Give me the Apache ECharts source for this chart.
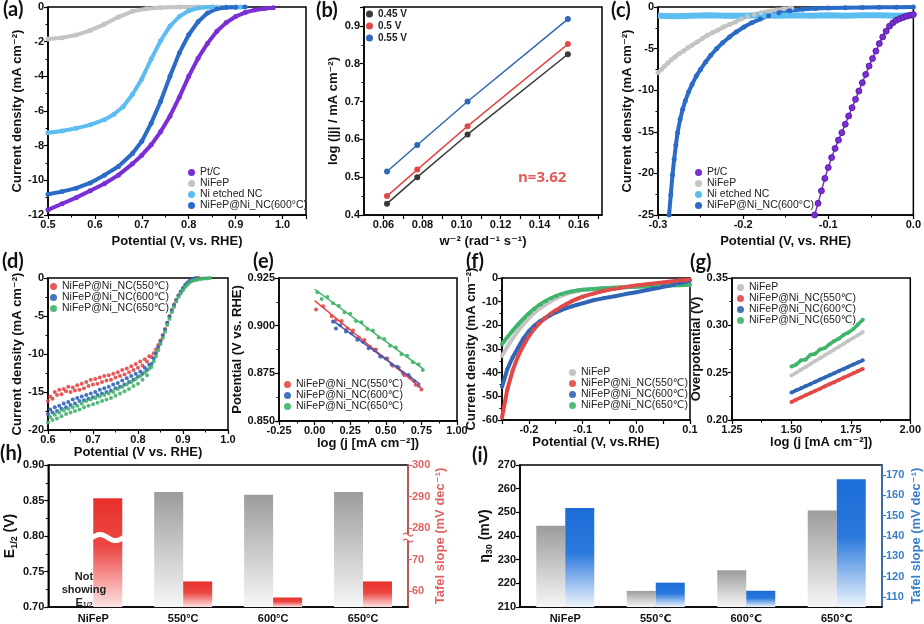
<!DOCTYPE html>
<html><head><meta charset="utf-8">
<script src="https://cdn.jsdelivr.net/npm/echarts@6/dist/echarts.min.js"></script>
<style>html,body{margin:0;padding:0;background:#fff}#c{width:924px;height:624px}</style>
</head><body><div id="c"></div>
<script>
// ---------------- DATA ----------------
// (a) ORR LSV
const aPtX = [0.50,0.53,0.56,0.59,0.62,0.65,0.68,0.70,0.72,0.74,0.76,0.78,0.80,0.82,0.84,0.86,0.88,0.90,0.92,0.94,0.96,0.98];
const aPtY = [-11.70,-11.35,-11.00,-10.60,-10.20,-9.70,-9.05,-8.55,-7.95,-7.20,-6.30,-5.20,-4.00,-2.95,-2.10,-1.40,-0.90,-0.55,-0.32,-0.18,-0.10,-0.05];
const aNiFePX = [0.50,0.53,0.56,0.59,0.62,0.65,0.68,0.71,0.74,0.78,0.82,0.86,0.90];
const aNiFePY = [-1.85,-1.77,-1.62,-1.35,-1.00,-0.58,-0.25,-0.10,-0.03,0,0,0,0];
const aEtchX = [0.50,0.53,0.56,0.59,0.62,0.64,0.66,0.68,0.70,0.72,0.74,0.76,0.78,0.80,0.82,0.85,0.88,0.91];
const aEtchY = [-7.25,-7.15,-7.00,-6.80,-6.50,-6.20,-5.75,-5.05,-4.15,-3.00,-1.95,-1.10,-0.55,-0.22,-0.06,0,0,0];
const aNCX = [0.50,0.53,0.56,0.59,0.62,0.65,0.68,0.70,0.72,0.74,0.76,0.78,0.80,0.82,0.84,0.86,0.88,0.90,0.92];
const aNCY = [-10.80,-10.65,-10.45,-10.15,-9.70,-9.20,-8.45,-7.75,-6.70,-5.45,-4.00,-2.65,-1.60,-0.85,-0.35,-0.10,-0.03,-0.01,0];
// (b) K-L
const bX = [0.0618,0.0773,0.1031,0.1545];
const b045 = [0.430,0.500,0.613,0.825];
const b050 = [0.450,0.520,0.635,0.852];
const b055 = [0.515,0.585,0.700,0.918];
// (c) HER LSV
const cPtX = [-0.116,-0.112,-0.108,-0.104,-0.100,-0.096,-0.092,-0.088,-0.084,-0.080,-0.076,-0.072,-0.068,-0.064,-0.060,-0.056,-0.052,-0.048,-0.044,-0.040,-0.036,-0.032,-0.028,-0.024,-0.020,-0.016,-0.012,-0.008,-0.004,0.000];
const cPtY = [-25.0,-23.6,-22.1,-20.6,-19.3,-18.1,-17.0,-16.0,-15.1,-14.1,-13.1,-12.1,-11.1,-10.1,-9.1,-8.1,-7.1,-6.2,-5.3,-4.4,-3.6,-2.9,-2.3,-1.9,-1.6,-1.4,-1.25,-1.1,-1.0,-0.9];
const cNiFePX = [-0.300,-0.296,-0.292,-0.288,-0.284,-0.280,-0.275,-0.270,-0.265,-0.260,-0.254,-0.248,-0.242,-0.236,-0.230,-0.223,-0.216,-0.209,-0.202,-0.195,-0.187,-0.179,-0.170,-0.161,-0.152,-0.143];
const cNiFePY = [-7.9,-7.5,-7.1,-6.7,-6.3,-6.0,-5.6,-5.3,-4.9,-4.6,-4.2,-3.8,-3.4,-3.1,-2.8,-2.4,-2.1,-1.8,-1.4,-1.15,-0.9,-0.7,-0.5,-0.35,-0.22,-0.12];
const cEtchX = [-0.30,-0.28,-0.26,-0.24,-0.22,-0.20,-0.18,-0.16,-0.14,-0.12,-0.10,-0.08,-0.06,-0.04,-0.02,0.00];
const cEtchY = [-1.05,-1.10,-1.05,-1.00,-1.05,-1.05,-1.00,-1.05,-1.00,-1.05,-1.00,-1.05,-1.00,-1.00,-1.05,-1.00];
const cNCX = [-0.287,-0.285,-0.283,-0.281,-0.279,-0.277,-0.274,-0.271,-0.268,-0.264,-0.260,-0.255,-0.250,-0.244,-0.238,-0.231,-0.224,-0.216,-0.208,-0.199,-0.190,-0.180,-0.170,-0.158,-0.145,-0.130,-0.115,-0.100,-0.080,-0.060,-0.040,-0.020,0.000];
const cNCY = [-25.0,-22.6,-20.2,-18.3,-16.6,-15.1,-13.5,-12.3,-11.3,-10.2,-9.3,-8.3,-7.5,-6.6,-5.8,-5.0,-4.3,-3.6,-3.0,-2.4,-1.9,-1.45,-1.05,-0.7,-0.45,-0.28,-0.18,-0.12,-0.08,-0.05,-0.03,-0.02,-0.01];
// (d) ORR LSV of temperatures
const dX = [0.600,0.605,0.610,0.615,0.620,0.625,0.630,0.635,0.640,0.645,0.650,0.655,0.660,0.665,0.670,0.675,0.680,0.685,0.690,0.695,0.700,0.705,0.710,0.715,0.720,0.725,0.730,0.735,0.740,0.745,0.750,0.755,0.760,0.765,0.770,0.775,0.780,0.785,0.790,0.795,0.800,0.805,0.810,0.815,0.820,0.825,0.830,0.835,0.840,0.845,0.850,0.855,0.860,0.865,0.870,0.875,0.880,0.885,0.890,0.895,0.900,0.905,0.910,0.915,0.920,0.925,0.930,0.935,0.940,0.945,0.950,0.955,0.960];
const d550 = [-16.2,-15.6,-15.9,-15.0,-15.4,-14.7,-15.3,-14.6,-14.9,-14.3,-15.0,-14.4,-14.8,-14.1,-14.7,-13.9,-14.5,-13.7,-14.2,-13.4,-14.0,-13.3,-13.9,-13.1,-13.7,-12.9,-13.5,-12.8,-13.4,-12.6,-13.1,-12.4,-12.9,-12.1,-12.7,-11.9,-12.4,-11.6,-12.1,-11.3,-11.8,-11.0,-11.5,-10.7,-11.0,-10.3,-10.4,-9.9,-9.4,-8.8,-8.2,-7.5,-6.7,-5.9,-5.0,-4.2,-3.5,-2.9,-2.3,-1.8,-1.4,-1.0,-0.7,-0.45,-0.3,-0.15,-0.05,0,null,null,null,null,null];
const d600 = [-17.9,-17.3,-17.7,-17.0,-17.5,-16.8,-17.2,-16.5,-17.0,-16.3,-16.7,-16.0,-16.5,-15.8,-16.2,-15.6,-16.1,-15.4,-15.9,-15.2,-15.7,-15.0,-15.4,-14.7,-15.2,-14.5,-15.0,-14.3,-14.8,-14.0,-14.5,-13.8,-14.3,-13.5,-14.0,-13.2,-13.7,-12.9,-13.4,-12.6,-13.0,-12.3,-12.6,-11.8,-12.1,-11.4,-11.3,-10.6,-9.9,-9.1,-8.4,-7.6,-6.8,-5.9,-5.1,-4.3,-3.6,-2.9,-2.3,-1.8,-1.3,-0.9,-0.6,-0.35,-0.2,-0.08,0,null,null,null,null,null,null];
const d650 = [-19.0,-18.3,-18.7,-18.0,-18.5,-17.7,-18.2,-17.4,-17.9,-17.2,-17.7,-17.0,-17.5,-16.8,-17.3,-16.5,-17.0,-16.2,-16.8,-16.0,-16.6,-15.8,-16.4,-15.6,-16.2,-15.4,-16.0,-15.2,-15.8,-15.0,-15.5,-14.6,-15.2,-14.3,-14.9,-14.0,-14.6,-13.7,-14.2,-13.3,-13.9,-12.9,-13.4,-12.4,-12.8,-11.9,-11.7,-11.0,-10.3,-9.5,-8.7,-7.9,-7.1,-6.2,-5.4,-4.5,-3.8,-3.1,-2.5,-2.0,-1.6,-1.2,-0.9,-0.6,-0.4,-0.3,-0.25,-0.18,-0.12,-0.08,-0.05,-0.02,0];
// (e) ORR Tafel
const e550X = [0.01,0.06,0.12,0.15,0.19,0.23,0.27,0.31,0.35,0.39,0.43,0.47,0.51,0.55,0.59,0.63,0.67,0.71,0.75];
const e550Y = [0.9085,0.9102,0.9050,0.9030,0.9025,0.8985,0.8975,0.8938,0.8925,0.8888,0.8875,0.8838,0.8828,0.8790,0.8780,0.8740,0.8728,0.8690,0.8665];
const e600X = [0.13,0.15,0.18,0.22,0.26,0.30,0.34,0.38,0.42,0.46,0.50,0.54,0.58,0.62,0.66,0.70,0.73];
const e600Y = [0.9020,0.8985,0.9002,0.8970,0.8960,0.8926,0.8915,0.8882,0.8872,0.8838,0.8828,0.8796,0.8784,0.8752,0.8741,0.8708,0.8685];
const e650X = [0.02,0.05,0.09,0.13,0.17,0.21,0.25,0.29,0.33,0.37,0.41,0.45,0.49,0.53,0.57,0.61,0.65,0.69,0.73,0.76];
const e650Y = [0.9175,0.9140,0.9150,0.9118,0.9105,0.9070,0.9062,0.9025,0.9018,0.8982,0.8975,0.8938,0.8930,0.8895,0.8886,0.8850,0.8842,0.8808,0.8798,0.8768];
const e550FitX = [0.00,0.75], e550FitY = [0.9131,0.8672];
const e600FitX = [0.12,0.74], e600FitY = [0.9030,0.8693];
const e650FitX = [0.00,0.76], e650FitY = [0.9191,0.8775];
// (f) HER LSV of temperatures
const fX = [-0.25,-0.24,-0.23,-0.22,-0.21,-0.20,-0.19,-0.18,-0.17,-0.16,-0.15,-0.14,-0.13,-0.12,-0.11,-0.10,-0.08,-0.06,-0.04,-0.02,0.00,0.02,0.04,0.06,0.08,0.10];
const fNiFeP = [-33,-29,-25.5,-22.3,-19.5,-17,-14.8,-12.9,-11.3,-9.9,-8.7,-7.6,-6.7,-6.0,-5.5,-5.1,-4.6,-4.3,-4.0,-3.8,-3.6,-3.4,-3.2,-3.1,-2.9,-2.8];
const f550 = [-59,-47,-39,-33,-28.5,-24.5,-21.5,-19,-17,-15.2,-13.7,-12.3,-11,-9.8,-8.8,-7.9,-6.6,-5.4,-4.5,-3.8,-3.2,-2.6,-2.1,-1.6,-1.1,-0.7];
const f600 = [-46,-38.5,-33.5,-29.5,-25.5,-22.5,-20.2,-18.4,-17,-15.7,-14.6,-13.6,-12.7,-12,-11.3,-10.7,-9.4,-8.5,-7.7,-6.8,-6.0,-5.1,-4.2,-3.3,-2.3,-1.1];
const f650 = [-28,-25,-22.2,-19.6,-17.2,-15,-13,-11.3,-9.9,-8.7,-7.7,-6.9,-6.2,-5.7,-5.3,-5.0,-4.6,-4.3,-4.1,-3.9,-3.7,-3.5,-3.4,-3.2,-3.1,-2.9];
// (g) HER Tafel
const gX = [1.50,1.52,1.54,1.56,1.58,1.60,1.62,1.64,1.66,1.68,1.70,1.72,1.74,1.76,1.78,1.80];
const gNiFeP = [0.2470,0.2500,0.2530,0.2560,0.2592,0.2622,0.2652,0.2683,0.2713,0.2745,0.2775,0.2806,0.2837,0.2867,0.2898,0.2930];
const g550 = [0.2190,0.2215,0.2238,0.2262,0.2284,0.2308,0.2330,0.2355,0.2378,0.2400,0.2424,0.2448,0.2470,0.2493,0.2517,0.2540];
const g600 = [0.2290,0.2313,0.2335,0.2358,0.2380,0.2403,0.2427,0.2450,0.2472,0.2495,0.2518,0.2540,0.2563,0.2586,0.2608,0.2630];
const g650 = [0.2565,0.2585,0.2630,0.2640,0.2690,0.2700,0.2745,0.2760,0.2800,0.2835,0.2860,0.2900,0.2925,0.2960,0.3010,0.3060];
// (h) ORR summary
const hCats = ['NiFeP','550°C','600°C','650°C'];
const hE12 = [null,0.862,0.858,0.862];
const hTafel = [289.5,63.1,58.0,63.1];
const hRightTicks = [60,70,280,290,300];
const hBreakAt = 77;          // break position on the (compressed) right axis
// (i) HER summary
const iCats = ['NiFeP','550℃','600℃','650℃'];
const iEta30 = [244.3,216.8,225.5,250.8];
const iTafel = [153.8,117.0,113.0,168.0];
const iRightTicks = [110,120,130,140,150,160,170];

// ---------------- STYLE ----------------
const FONT = '"Liberation Sans", Arial, "DejaVu Sans", sans-serif';
const COL = {purple:'#7a2fd6', gray:'#c4c4c4', lblue:'#5bbdf0', dblue:'#2a6bc6',
  red:'#e24848', blue:'#2f66b6', green:'#3fb46b', dgray:'#3a3a3a', hred:'#e06262', iblue:'#3a7ec8'};
const H_BAR_W = 29;
function merge(a, b){
  const o = Object.assign({}, a);
  for (const k in b){
    const v = b[k];
    if (v && typeof v === 'object' && !Array.isArray(v) && typeof v !== 'function' &&
        o[k] && typeof o[k] === 'object' && !Array.isArray(o[k])) o[k] = merge(o[k], v);
    else o[k] = v;
  }
  return o;
}
const pairs = (xs, ys) => xs.map((x,i)=>[x, ys[i]]).filter(p => p[1] !== null && p[1] !== undefined);
// broken right axis of (h): 280..300 is drawn right above 60..75
const toBroken = v => v > 200 ? v - 200 : v;
const fromBroken = v => v >= 78 ? v + 200 : v;

const baseAxis = {
  type:'value',
  axisLine:{show:true, onZero:false, lineStyle:{color:'#000', width:1.5}},
  axisTick:{show:true, inside:false, length:4, lineStyle:{color:'#000', width:1.2}},
  minorTick:{show:true, splitNumber:2, length:2.5, lineStyle:{color:'#000', width:1}},
  splitLine:{show:false}, minorSplitLine:{show:false},
  axisLabel:{color:'#111', fontSize:11, fontWeight:'bold', fontFamily:FONT, margin:4},
  nameLocation:'middle',
  nameTextStyle:{color:'#111', fontSize:13, fontWeight:'bold', fontFamily:FONT}
};
const ax = o => merge(baseAxis, o);
const f1 = v => v.toFixed(1), f2 = v => v.toFixed(2), f3 = v => v.toFixed(3);

const grids = [
  {left:48, top:7, width:258, height:208},
  {left:364, top:7, width:238, height:208},
  {left:658, top:7, width:258, height:208},
  {left:48, top:278, width:180, height:152},
  {left:279, top:278, width:178, height:143},
  {left:502, top:278, width:188, height:142},
  {left:732, top:278, width:180, height:142},
  {left:48, top:465, width:360, height:145},
  {left:520, top:465, width:362, height:145}
].map(g => Object.assign({show:true, borderColor:'#000', borderWidth:1.5, backgroundColor:'transparent'}, g));

const catAxis = (gi, data) => ax({type:'category', gridIndex:gi, data, axisTick:{show:false},
  axisLabel:{fontSize:11, margin:6}});

const xAxes = [
  ax({gridIndex:0, min:0.5, max:1.05, interval:0.1, name:'Potential (V, vs. RHE)', nameGap:20, axisLabel:{formatter:f1, showMaxLabel:false}}),
  ax({gridIndex:1, min:0.05, max:0.172, name:'w⁻² (rad⁻¹ s⁻¹)', nameGap:20, minorTick:{show:false},
      axisLabel:{customValues:[0.06,0.08,0.10,0.12,0.14,0.16], formatter:f2},
      axisTick:{customValues:[0.06,0.07,0.08,0.09,0.10,0.11,0.12,0.13,0.14,0.15,0.16,0.17]}}),
  ax({gridIndex:2, min:-0.3, max:0, interval:0.1, name:'Potential (V, vs. RHE)', nameGap:20, axisLabel:{formatter:f1}}),
  ax({gridIndex:3, min:0.6, max:1.0, interval:0.1, name:'Potential (V vs. RHE)', nameGap:13, axisLabel:{formatter:f1}}),
  ax({gridIndex:4, min:-0.25, max:1.0, interval:0.25, name:'log (j [mA cm⁻²])', nameGap:13, axisLabel:{formatter:f2}}),
  ax({gridIndex:5, min:-0.25, max:0.1, interval:0.05, name:'Potential (V, vs.RHE)', nameGap:13, minorTick:{show:false},
      axisLabel:{formatter:v => (Math.abs(Math.round(v*100)) % 10 === 0 ? v.toFixed(1) : '')}}),
  ax({gridIndex:6, min:1.25, max:2.0, interval:0.25, name:'log (j [mA cm⁻²])', nameGap:13, axisLabel:{formatter:f2}}),
  catAxis(7, hCats),
  catAxis(8, iCats)
];

const redAx = {lineStyle:{color:COL.hred, width:1.5}};
const yAxes = [
  ax({gridIndex:0, min:-12, max:0, interval:2, name:'Current density (mA cm⁻²)', nameGap:16}),
  ax({gridIndex:1, min:0.4, max:0.95, interval:0.1, name:'log (|j| / mA cm⁻²)', nameGap:24, axisLabel:{formatter:f1, showMaxLabel:false}}),
  ax({gridIndex:2, min:-25, max:0, interval:5, name:'Current density (mA cm⁻²)', nameGap:19}),
  ax({gridIndex:3, min:-20, max:0, interval:5, name:'Current density (mA cm⁻²)', nameGap:20}),
  ax({gridIndex:4, min:0.85, max:0.925, interval:0.025, name:'Potential (V vs. RHE)', nameGap:32, axisLabel:{formatter:f3}}),
  ax({gridIndex:5, min:-60, max:0, interval:10, name:'Current density (mA cm⁻²)', nameGap:19}),
  ax({gridIndex:6, min:0.2, max:0.35, interval:0.05, name:'Overpotential (V)', nameGap:29, axisLabel:{formatter:f2}}),
  ax({gridIndex:7, min:0.7, max:0.9, interval:0.05, name:'E{s|1/2} (V)', nameGap:27, axisLabel:{formatter:f2},
      nameTextStyle:{fontSize:14, lineHeight:18, rich:{s:{fontSize:9, fontWeight:'bold', fontFamily:FONT, color:'#111', lineHeight:10, verticalAlign:'bottom'}}}}),
  ax({gridIndex:8, min:210, max:270, interval:10, name:'η{s|30} (mV)', nameGap:20, minorTick:{show:false},
      nameTextStyle:{fontSize:14, lineHeight:18, rich:{s:{fontSize:9, fontWeight:'bold', fontFamily:FONT, color:'#111', lineHeight:10, verticalAlign:'bottom'}}}}),
  ax({gridIndex:7, position:'right', min:55, max:100, name:'Tafel slope (mV dec⁻¹)', nameGap:26,
      axisLine:redAx, minorTick:{show:false},
      axisTick:{customValues:hRightTicks.map(toBroken), lineStyle:{color:COL.hred}},
      axisLabel:{customValues:hRightTicks.map(toBroken), formatter:v => String(fromBroken(v)), color:COL.hred},
      nameTextStyle:{color:COL.hred}}),
  ax({gridIndex:8, position:'right', min:105, max:175, name:'Tafel slope (mV dec⁻¹)', nameGap:28,
      axisLine:{lineStyle:{color:COL.iblue, width:1.5}}, minorTick:{show:false},
      axisTick:{customValues:iRightTicks, lineStyle:{color:COL.iblue}},
      axisLabel:{customValues:iRightTicks, color:COL.iblue},
      nameTextStyle:{color:COL.iblue}})
];

function line(name, gi, xs, ys, color, lw, ss, extra){
  return merge({type:'line', name, xAxisIndex:gi, yAxisIndex:gi, data:pairs(xs, ys),
    symbol:'circle', symbolSize:ss, showSymbol:ss > 0, lineStyle:{color, width:lw},
    itemStyle:{color}, emphasis:{disabled:true}, silent:true}, extra || {});
}
function scatter(name, gi, xs, ys, color, ss){
  return {type:'scatter', name, xAxisIndex:gi, yAxisIndex:gi, data:pairs(xs, ys),
    symbol:'circle', symbolSize:ss, itemStyle:{color, opacity:0.9}, emphasis:{disabled:true}, silent:true};
}
const grad = stops => ({type:'linear', x:0, y:0, x2:0, y2:1, colorStops:stops.map(s => ({offset:s[0], color:s[1]}))});
const grayGrad = grad([[0,'#9c9c9c'],[1,'#f6f6f6']]);
const redGrad = grad([[0,'#e8302c'],[0.45,'#ec4844'],[1,'#fde4e4']]);
const blueGrad = grad([[0,'#1c6dd8'],[0.45,'#2a78dc'],[1,'#eef5fd']]);

const N600a = 'NiFeP@Ni_NC(600°C)';
const N550 = 'NiFeP@Ni_NC(550℃)', N600 = 'NiFeP@Ni_NC(600℃)', N650 = 'NiFeP@Ni_NC(650℃)';

const series = [
  // (a)
  line('Pt/C', 0, aPtX, aPtY, COL.purple, 4, 5),
  line('NiFeP', 0, aNiFePX, aNiFePY, COL.gray, 4, 5),
  line('Ni etched NC', 0, aEtchX, aEtchY, COL.lblue, 4, 5),
  line(N600a, 0, aNCX, aNCY, COL.dblue, 4, 5),
  // (b)
  line('0.45 V', 1, bX, b045, COL.dgray, 1.5, 6),
  line('0.5 V', 1, bX, b050, COL.red, 1.5, 6),
  line('0.55 V', 1, bX, b055, COL.blue, 1.5, 6),
  // (c)
  line('NiFeP', 2, cNiFePX, cNiFePY, COL.gray, 4, 5),
  line(N600a, 2, cNCX, cNCY, COL.dblue, 4, 5),
  line('Pt/C', 2, cPtX, cPtY, COL.purple, 1.5, 6, {itemStyle:{borderColor:'#4b1590', borderWidth:0.8}}),
  line('Ni etched NC', 2, cEtchX, cEtchY, COL.lblue, 6, 0),
  // (d)
  scatter(N550, 3, dX, d550, COL.red, 4),
  scatter(N600, 3, dX, d600, COL.blue, 4),
  scatter(N650, 3, dX, d650, COL.green, 4),
  // (e)
  scatter(N550, 4, e550X, e550Y, COL.red, 4),
  scatter(N600, 4, e600X, e600Y, COL.blue, 4),
  scatter(N650, 4, e650X, e650Y, COL.green, 4),
  line(N550, 4, e550FitX, e550FitY, COL.red, 1.5, 0),
  line(N600, 4, e600FitX, e600FitY, '#4a55b0', 1.5, 0),
  line(N650, 4, e650FitX, e650FitY, COL.green, 1.5, 0),
  // (f)
  line('NiFeP', 5, fX, fNiFeP, COL.gray, 4, 4),
  line(N650, 5, fX, f650, COL.green, 4, 4),
  line(N600, 5, fX, f600, COL.blue, 4, 4),
  line(N550, 5, fX, f550, COL.red, 4, 4),
  // (g)
  line('NiFeP', 6, gX, gNiFeP, COL.gray, 3.5, 4),
  line(N550, 6, gX, g550, COL.red, 3.5, 4),
  line(N600, 6, gX, g600, COL.blue, 3.5, 4),
  line(N650, 6, gX, g650, COL.green, 3.5, 4),
  // (h)
  {type:'bar', name:'E1/2', xAxisIndex:7, yAxisIndex:7, data:hE12, barWidth:H_BAR_W, barGap:'0%', itemStyle:{color:grayGrad}, silent:true},
  {type:'bar', name:'Tafel h', xAxisIndex:7, yAxisIndex:9, data:hTafel.map(toBroken), barWidth:H_BAR_W, barGap:'0%', itemStyle:{color:redGrad}, silent:true},
  {type:'custom', xAxisIndex:7, yAxisIndex:9, z:10, silent:true, data:[[0, hBreakAt]],
    renderItem:(params, api) => {
      const p = api.coord([api.value(0), api.value(1)]);
      const cs = params.coordSys;
      const x0 = p[0] - 1, x1 = p[0] + H_BAR_W + 1, y = p[1];
      const wave = [];
      for (let k = 0; k <= 16; k++){ const t = k/16; wave.push([x0 + (x1-x0)*t, y - 3*Math.sin(t*2*Math.PI)]); }
      const xr = cs.x + cs.width;
      const mk = [];
      for (let k = 0; k <= 8; k++){ const t = k/8; mk.push([xr - 5 + 10*t, -1.5*Math.sin(t*2*Math.PI)]); }
      return {type:'group', children:[
        {type:'polyline', shape:{points:wave, smooth:0.4}, style:{stroke:'#ffffff', lineWidth:5, fill:null}},
        {type:'rect', shape:{x:xr-5, y:y-3, width:10, height:6}, style:{fill:'#fff'}},
        {type:'polyline', shape:{points:mk.map(q => [q[0], y-3+q[1]])}, style:{stroke:COL.hred, lineWidth:1.2, fill:null}},
        {type:'polyline', shape:{points:mk.map(q => [q[0], y+3+q[1]])}, style:{stroke:COL.hred, lineWidth:1.2, fill:null}}
      ]};
    }},
  // (i)
  {type:'bar', name:'eta30', xAxisIndex:8, yAxisIndex:8, data:iEta30, barWidth:H_BAR_W, barGap:'0%', itemStyle:{color:grayGrad}, silent:true},
  {type:'bar', name:'Tafel i', xAxisIndex:8, yAxisIndex:10, data:iTafel, barWidth:H_BAR_W, barGap:'0%', itemStyle:{color:blueGrad}, silent:true}
];

function legendCfg(names, left, top, extra){
  return merge({data:names, left, top, orient:'vertical', icon:'circle', itemWidth:7, itemHeight:7, itemGap:0,
    padding:0, selectedMode:false,
    textStyle:{fontSize:10.5, color:'#222', fontFamily:FONT}}, extra || {});
}
const legends = [
  legendCfg(['Pt/C','NiFeP','Ni etched NC',N600a], 188, 167),
  legendCfg(['0.45 V','0.5 V','0.55 V'], 366, 9, {itemGap:2, textStyle:{fontWeight:'bold', fontSize:10}}),
  legendCfg(['Pt/C','NiFeP','Ni etched NC',N600a], 695, 167),
  legendCfg([N550,N600,N650], 50, 281),
  legendCfg([N550,N600,N650], 284, 379),
  legendCfg(['NiFeP',N550,N600,N650], 569, 367),
  legendCfg(['NiFeP',N550,N600,N650], 737, 282)
];

const pl = (text, left, top) => ({text, left, top, padding:0,
  textStyle:{fontSize:20, fontWeight:'bold', color:'#111', fontFamily:'Lato, "Open Sans", sans-serif'}});
const titles = [
  pl('(a)',3,0), pl('(b)',316,1), pl('(c)',611,1), pl('(d)',2,252), pl('(e)',253,252),
  pl('(f)',466,252), pl('(g)',690,253), pl('(h)',0,444), pl('(i)',472,446),
  {text:'n=3.62', left:518, top:170, padding:0, textStyle:{fontSize:15, fontWeight:'bold', color:'#e05a5a', fontFamily:'"Open Sans", sans-serif'}}
];

const chart = echarts.init(document.getElementById('c'), null, {renderer:'canvas'});
chart.setOption({
  animation:false, backgroundColor:'#fff',
  textStyle:{fontFamily:FONT},
  title:titles, legend:legends, grid:grids, xAxis:xAxes, yAxis:yAxes, series,
  graphic:[{type:'text', x:84, y:570, z:100, zlevel:1, silent:true,
    style:{text:'Not\nshowing\nE{s|1/2}', textAlign:'center', fill:'#222', fontSize:11, fontWeight:'bold', fontFamily:FONT, lineHeight:13,
      rich:{s:{fontSize:7, fontWeight:'bold', fontFamily:FONT, fill:'#222', lineHeight:9, verticalAlign:'bottom'}}}}]
});
</script></body></html>
